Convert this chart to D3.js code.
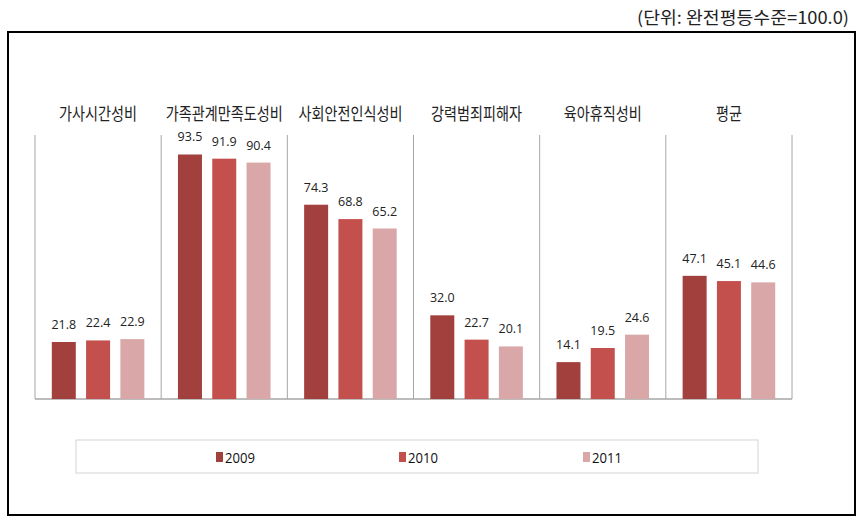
<!DOCTYPE html>
<html>
<head>
<meta charset="utf-8">
<script src="https://cdn.jsdelivr.net/npm/d3@7"></script>
<style>
  body { margin: 0; background: #fff; }
  svg { display: block; }
</style>
</head>
<body>
<svg id="chart" width="860" height="523"></svg>
<script>
// ---- data ----
const categories = ["가사시간성비", "가족관계만족도성비", "사회안전인식성비", "강력범죄피해자", "육아휴직성비", "평균"];
const seriesNames = ["2009", "2010", "2011"];
const values2009 = [21.8, 93.5, 74.3, 32.0, 14.1, 47.1];
const values2010 = [22.4, 91.9, 68.8, 22.7, 19.5, 45.1];
const values2011 = [22.9, 90.4, 65.2, 20.1, 24.6, 44.6];
const unitLabel = "(단위: 완전평등수준=100.0)";

const seriesValues = [values2009, values2010, values2011];
const colors = ["#A2403E", "#C4504E", "#D9A7A7"];

const svg = d3.select("#chart");

// outer frame
svg.append("rect")
  .attr("x", 8).attr("y", 32).attr("width", 847).attr("height", 483)
  .attr("fill", "#fff").attr("stroke", "#000").attr("stroke-width", 2);

// unit text
svg.append("text")
  .attr("x", 849).attr("y", 24)
  .attr("text-anchor", "end")
  .attr("font-family", "'Noto Sans CJK KR', sans-serif")
  .attr("font-size", 17)
  .attr("fill", "#222")
  .attr("textLength", 212)
  .attr("lengthAdjust", "spacingAndGlyphs")
  .text(unitLabel);

// scales
const plotLeft = 35, plotRight = 792, baseY = 399, topY = 137.5;
const x0 = d3.scaleBand().domain(categories).range([plotLeft, plotRight]).paddingInner(0).paddingOuter(0);
const x1 = d3.scaleBand().domain(seriesNames).range([0, x0.bandwidth()]).paddingInner(0.3).paddingOuter(0.49);
const y = d3.scaleLinear().domain([0, 100]).range([baseY, topY]);

// panel separators
const seps = categories.map(c => x0(c)).concat([plotRight]);
svg.append("g").selectAll("line").data(seps).join("line")
  .attr("x1", d => d).attr("x2", d => d)
  .attr("y1", 135).attr("y2", baseY)
  .attr("stroke", "#A6A6A6").attr("stroke-width", 1);

// baseline axis
svg.append("line")
  .attr("x1", plotLeft).attr("x2", plotRight)
  .attr("y1", baseY).attr("y2", baseY)
  .attr("stroke", "#A6A6A6").attr("stroke-width", 1.5);

// category labels (top)
svg.append("g").selectAll("text").data(categories).join("text")
  .attr("x", d => x0(d) + x0.bandwidth() / 2)
  .attr("y", 120)
  .attr("text-anchor", "middle")
  .attr("font-family", "'Noto Sans CJK KR', sans-serif")
  .attr("font-size", 17)
  .attr("fill", "#222")
  .attr("textLength", d => d.length * 13)
  .attr("lengthAdjust", "spacingAndGlyphs")
  .text(d => d);

// bars
const groups = svg.append("g").selectAll("g").data(categories).join("g")
  .attr("transform", d => `translate(${x0(d)},0)`);

groups.selectAll("rect")
  .data((c, i) => seriesNames.map((s, j) => ({ s, j, v: seriesValues[j][i] })))
  .join("rect")
  .attr("x", d => x1(d.s))
  .attr("width", x1.bandwidth())
  .attr("y", d => y(d.v))
  .attr("height", d => baseY - y(d.v))
  .attr("fill", d => colors[d.j]);

groups.selectAll("text")
  .data((c, i) => seriesNames.map((s, j) => ({ s, j, v: seriesValues[j][i] })))
  .join("text")
  .attr("x", d => x1(d.s) + x1.bandwidth() / 2)
  .attr("y", d => y(d.v) - 13)
  .attr("text-anchor", "middle")
  .attr("font-family", "'Open Sans', sans-serif")
  .attr("font-size", 12.5)
  .attr("fill", "#222")
  .text(d => d.v.toFixed(1));

// legend
svg.append("rect")
  .attr("x", 76).attr("y", 440).attr("width", 682).attr("height", 33)
  .attr("fill", "#fff").attr("stroke", "#D4D4D4").attr("stroke-width", 1);

const legendX = [216, 399, 583];
const lg = svg.append("g").selectAll("g").data(seriesNames).join("g")
  .attr("transform", (d, i) => `translate(${legendX[i]},0)`);
lg.append("rect")
  .attr("x", 0).attr("y", 452).attr("width", 7).attr("height", 10)
  .attr("fill", (d, i) => colors[i]);
lg.append("text")
  .attr("x", 9).attr("y", 463)
  .attr("font-family", "'Open Sans', sans-serif")
  .attr("font-size", 15)
  .attr("fill", "#111")
  .attr("textLength", 30)
  .attr("lengthAdjust", "spacingAndGlyphs")
  .text(d => d);
</script>
</body>
</html>
